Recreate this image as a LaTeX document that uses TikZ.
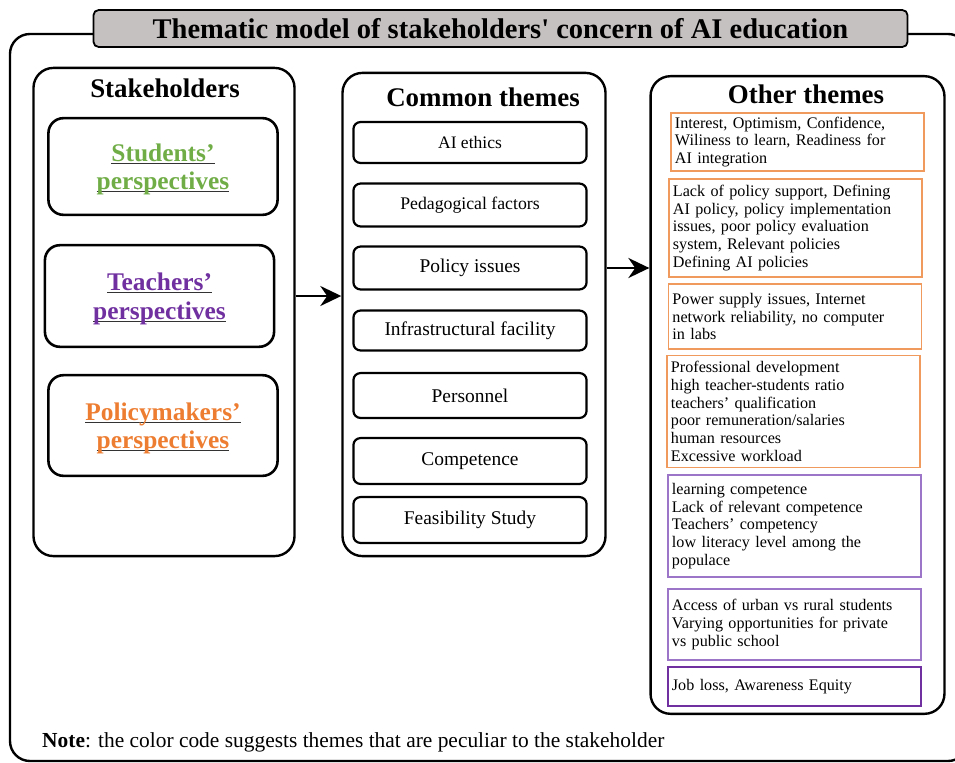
\documentclass[tikz,border=0pt]{standalone}
\usepackage{fontspec}
\setmainfont{Liberation Serif}
\usetikzlibrary{arrows.meta}

\definecolor{stugreen}{HTML}{70AD47}
\definecolor{teapurple}{HTML}{7030A0}
\definecolor{polorange}{HTML}{ED7D31}
\definecolor{lightorange}{HTML}{F09A5E}
\definecolor{lightpurple}{HTML}{9C74C8}
\definecolor{titlegray}{HTML}{C6C1C1}

% underline drawn at a fixed depth, through the descenders
\newcommand\ulword[1]{\setbox0\hbox{#1}\rlap{\color{black!80}\rule[-2.6pt]{\wd0}{1.1pt}}\box0}

\tikzset{
  frame/.style={draw, line width=2.4, rounded corners=20},
  colbox/.style={draw, line width=2.4, rounded corners=20, inner sep=0},
  heading/.style={font=\fontsize{27}{27}\selectfont\bfseries},
  stakebox/.style={draw, line width=2.6, rounded corners=15, minimum width=230,
    align=center, text depth=-1.5pt, font=\fontsize{25.5}{28.5}\selectfont\bfseries},
  themebox/.style={draw, line width=2.2, rounded corners=7, minimum width=234,
    minimum height=43, font=\fontsize{19.5}{20}\selectfont},
  otherbox/.style={draw, line width=1.4, inner sep=4, text width=246, align=left,
    font=\fontsize{16.2}{17.8}\selectfont},
  link/.style={line width=3, -{Stealth[length=21pt, width=20pt]}},
}

\begin{document}
\begin{tikzpicture}[x=1bp, y=-1bp]
  \clip (0,0) rectangle (955,763);

  % Outer frame and title
  \draw[frame] (10,34) rectangle (968,761);
  \node[draw, line width=1.8, rounded corners=5, fill=titlegray, minimum width=817,
    minimum height=37, inner sep=0, font=\fontsize{28.6}{29}\selectfont\bfseries]
    (title) at (500.5,28.5) {Thematic model of stakeholders\textquotesingle{} concern of AI education};

  % Stakeholders column
  \node[colbox, minimum width=262, minimum height=490] (stake) at (164,312) {};
  \node[heading] (stakehead) at (165,88) {Stakeholders};
  \node[stakebox, minimum height=97, text=stugreen] (stud) at (163,166.5)
    {\ulword{Students’}\\\ulword{perspectives}};
  \node[stakebox, minimum height=102, text=teapurple] (teach) at (159.5,296)
    {\ulword{Teachers’}\\\ulword{perspectives}};
  \node[stakebox, minimum height=101, text=polorange] (policy) at (163,425.5)
    {\ulword{Policymakers’}\\\ulword{perspectives}};

  % Common themes column
  \node[colbox, minimum width=264, minimum height=485] (common) at (474,314.5) {};
  \node[heading] (commonhead) at (483,97) {Common themes};
  \node[themebox, minimum height=41, font=\fontsize{17.6}{18}\selectfont] (ethics) at (470,142.5) {AI ethics};
  \node[themebox, font=\fontsize{17.8}{18}\selectfont] (peda) at (470,205) {Pedagogical factors};
  \node[themebox] (issues) at (470,268) {Policy issues};
  \node[themebox, minimum height=40] (infra) at (470,330.5) {Infrastructural facility};
  \node[themebox, minimum height=45] (staff) at (470,395.5) {Personnel};
  \node[themebox, minimum height=46] (compet) at (470,461) {Competence};
  \node[themebox, minimum height=46] (feasib) at (470,520) {Feasibility Study};

  % Other themes column
  \node[colbox, minimum width=295, minimum height=640] (other) at (797.5,395) {};
  \node[heading] (otherhead) at (806,94) {Other themes};
  \node[otherbox, draw=lightorange, minimum height=58] (oth1) at (797.5,142)
    {Interest, Optimism, Confidence,\\Wiliness to learn, Readiness for\\AI integration};
  \node[otherbox, draw=lightorange, minimum height=98] (oth2) at (795.5,228)
    {Lack of policy support, Defining\\AI policy, policy implementation\\issues, poor policy evaluation\\system, Relevant policies\\Defining AI policies};
  \node[otherbox, draw=lightorange, minimum height=65] (oth3) at (795,316.5)
    {Power supply issues, Internet\\network reliability, no computer\\in labs};
  \node[otherbox, draw=lightorange, minimum height=113] (oth4) at (793.5,411.5)
    {Professional development\\high teacher-students ratio\\teachers’ qualification\\poor remuneration/salaries\\human resources\\Excessive workload};
  \node[otherbox, draw=lightpurple, minimum height=102] (oth5) at (794.5,526)
    {learning competence\\Lack of relevant competence\\Teachers’ competency\\low literacy level among the\\populace};
  \node[otherbox, draw=lightpurple, minimum height=71] (oth6) at (794.5,624.5)
    {Access of urban vs rural students\\Varying opportunities for private\\vs public school};
  \node[otherbox, draw=teapurple, minimum height=39] (oth7) at (794.5,686.5)
    {Job loss, Awareness Equity};

  % Arrows between columns
  \draw[link] (stake.east |- teach) -- (common.west |- teach);
  \draw[link] (common.east |- issues) -- (other.west |- issues);

  % Note
  \node[anchor=west, inner sep=0, font=\fontsize{21.5}{22}\selectfont] (note) at (42,742)
    {\textbf{Note}: the color code suggests themes that are peculiar to the stakeholder};
\end{tikzpicture}
\end{document}
